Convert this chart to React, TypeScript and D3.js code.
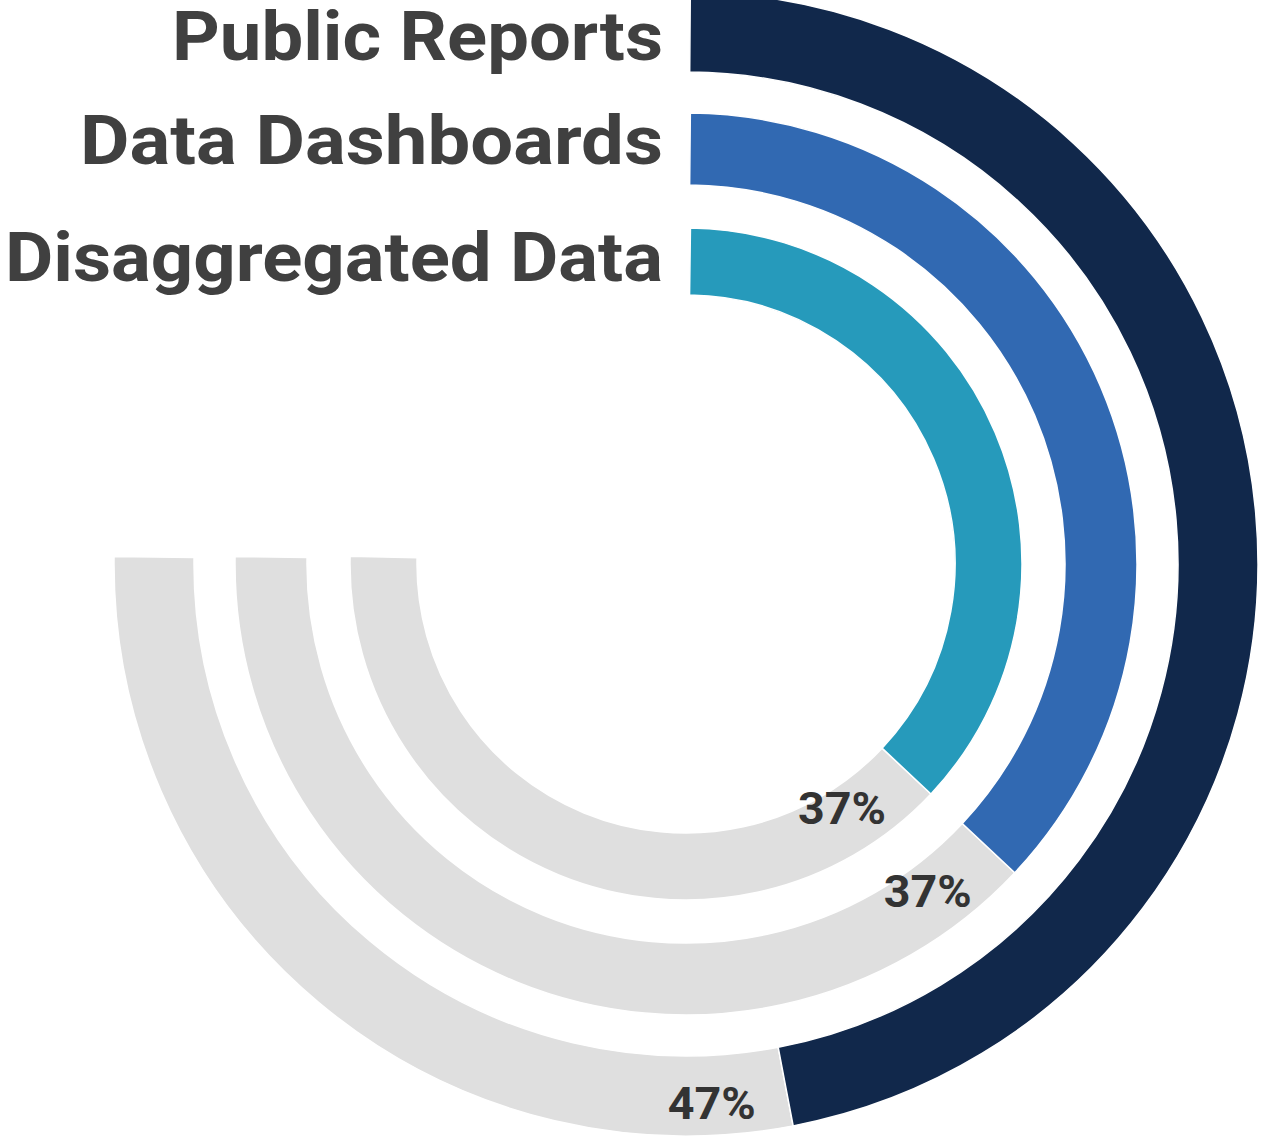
import { useEffect, useRef } from 'react';
import * as d3 from 'd3';

// chart data
const categories = ['Public Reports', 'Data Dashboards', 'Disaggregated Data'];
const values = [47, 37, 37];
const valueLabels = ['47%', '37%', '37%'];
const colors = ['#11284B', '#3169B2', '#269ABB'];
const trackColor = '#DFDFDF';

// layout
const W = 1263;
const H = 1138;
const CX = 686;
const CY = 564;
const ringOuter = [572, 451, 336];
const ringWidth = [80, 72, 67];
const labelWidths = [491, 583, 658];
const labelShift = [4, -9, -5];
const valueShift = [8, -8, -13];

export default function App() {
  const svgRef = useRef<SVGSVGElement>(null);

  useEffect(() => {
    if (!svgRef.current) return;
    const svg = d3.select(svgRef.current);
    svg.selectAll('*').remove();
    svg.attr('width', W).attr('height', H);

    const g = svg.append('g').attr('transform', `translate(${CX},${CY})`);

    // percent -> angle, full circle = 100%
    const angle = d3.scaleLinear().domain([0, 100]).range([0, 2 * Math.PI]);

    const rings = categories.map((c, i) => {
      const r1 = ringOuter[i];
      const r0 = r1 - ringWidth[i];
      const rMid = (r0 + r1) / 2;
      return {
        label: c,
        value: values[i],
        text: valueLabels[i],
        color: colors[i],
        r0,
        r1,
        rMid,
        rLabel: rMid + valueShift[i],
        start: 4 / rMid,
        stop: angle(values[i]),
        trackEnd: angle(75) + 7 / rMid,
      };
    });

    const arc = d3.arc<any>()
      .innerRadius(d => d.r0)
      .outerRadius(d => d.r1);

    // grey track
    g.selectAll('path.track')
      .data(rings)
      .join('path')
      .attr('class', 'track')
      .attr('d', d => arc({ ...d, startAngle: d.stop, endAngle: d.trackEnd }))
      .attr('fill', trackColor)
      .attr('stroke', '#fff')
      .attr('stroke-width', 1.5);

    // value arcs
    g.selectAll('path.bar')
      .data(rings)
      .join('path')
      .attr('class', 'bar')
      .attr('d', d => arc({ ...d, startAngle: d.start, endAngle: d.stop }))
      .attr('fill', d => d.color)
      .attr('stroke', '#fff')
      .attr('stroke-width', 1.5);

    // value labels just past the end of each bar
    const labelArc = d3.arc<any>()
      .innerRadius(d => d.rLabel)
      .outerRadius(d => d.rLabel);

    g.selectAll('text.val')
      .data(rings)
      .join('text')
      .attr('class', 'val')
      .attr('transform', d => {
        const [x, y] = labelArc.centroid({ ...d, startAngle: d.stop, endAngle: d.stop + 150 / d.rMid });
        return `translate(${x},${y})`;
      })
      .attr('text-anchor', 'middle')
      .attr('dy', '0.36em')
      .attr('fill', '#333333')
      .style('font', 'bold 44px Roboto, "Open Sans", sans-serif')
      .attr('textLength', 88)
      .attr('lengthAdjust', 'spacingAndGlyphs')
      .text(d => d.text);

    // category labels at the start of each ring
    g.selectAll('text.cat')
      .data(rings)
      .join('text')
      .attr('class', 'cat')
      .attr('x', -23)
      .attr('y', (d, i) => -d.rMid + labelShift[i])
      .attr('dy', '0.36em')
      .attr('text-anchor', 'end')
      .attr('fill', '#404040')
      .style('font', 'bold 68px Roboto, "Open Sans", sans-serif')
      .attr('textLength', (d, i) => labelWidths[i])
      .attr('lengthAdjust', 'spacingAndGlyphs')
      .text(d => d.label);
  }, []);

  return (
    <svg
      ref={svgRef}
      style={{ position: 'absolute', left: 0, top: 0, background: '#fff' }}
    />
  );
}
